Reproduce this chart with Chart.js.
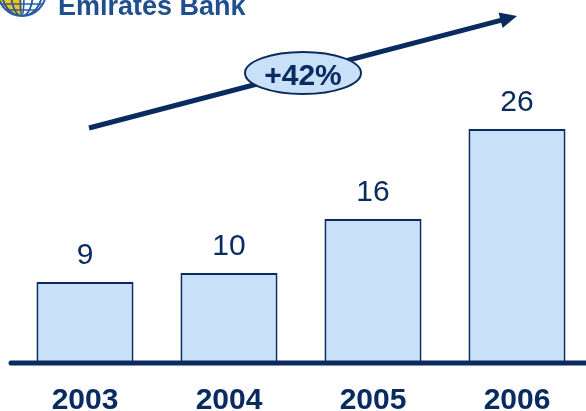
<!DOCTYPE html>
<html>
<head>
<meta charset="utf-8">
<script src="https://cdn.jsdelivr.net/npm/chart.js@4"></script>
<style>
  html, body { margin: 0; padding: 0; background: #fff; overflow: hidden; width: 586px; height: 411px; }
  #wrap { position: relative; width: 600px; height: 411px; }
  #brand { position: absolute; left: 58px; top: -7px; font: bold 27px/27px "Liberation Sans", Arial, sans-serif; color: #1f4f8e; white-space: nowrap; }
</style>
</head>
<body>
<div id="wrap">
  <canvas id="c" width="600" height="411"></canvas>
  <div id="brand">Emirates Bank</div>
</div>
<script>
// Yearly figures
const years = ['2003', '2004', '2005', '2006'];
const values = [9, 10, 16, 26];
const growthLabel = '+42%';

const NAVY = '#0a2b60';
const FILL = '#c9e1f8';

// Globe emblem, value labels, baseline and growth arrow
const decorations = {
  id: 'decorations',
  afterDatasetsDraw(chart) {
    const ctx = chart.ctx;
    const area = chart.chartArea;
    const y = chart.scales.y;
    const zeroY = y.getPixelForValue(0);

    // value labels above the bars
    const meta = chart.getDatasetMeta(0);
    ctx.save();
    ctx.fillStyle = NAVY;
    ctx.font = '30px "Liberation Sans", Arial, sans-serif';
    ctx.textAlign = 'center';
    ctx.textBaseline = 'alphabetic';
    meta.data.forEach((bar, i) => {
      ctx.fillText(String(values[i]), bar.x, bar.y - 18);
    });
    ctx.restore();

    // heavy baseline
    ctx.save();
    ctx.strokeStyle = NAVY;
    ctx.lineWidth = 5;
    ctx.lineCap = 'round';
    ctx.beginPath();
    ctx.moveTo(area.left - 2, zeroY);
    ctx.lineTo(chart.width + 5, zeroY);
    ctx.stroke();
    ctx.restore();

    // growth arrow
    const x0 = 89, y0 = 128, x1 = 517, y1 = 16;
    const ang = Math.atan2(y1 - y0, x1 - x0);
    const headLen = 17, headHalf = 8;
    const bx = x1 - headLen * Math.cos(ang), by = y1 - headLen * Math.sin(ang);
    ctx.save();
    ctx.strokeStyle = NAVY;
    ctx.fillStyle = NAVY;
    ctx.lineWidth = 5;
    ctx.beginPath();
    ctx.moveTo(x0, y0);
    ctx.lineTo(bx + 2 * Math.cos(ang), by + 2 * Math.sin(ang));
    ctx.stroke();
    ctx.beginPath();
    ctx.moveTo(x1, y1);
    ctx.lineTo(bx - headHalf * Math.sin(ang), by + headHalf * Math.cos(ang));
    ctx.lineTo(bx + headHalf * Math.sin(ang), by - headHalf * Math.cos(ang));
    ctx.closePath();
    ctx.fill();

    // growth badge
    ctx.beginPath();
    ctx.ellipse(303, 73, 58, 21, 0, 0, Math.PI * 2);
    ctx.fillStyle = FILL;
    ctx.fill();
    ctx.lineWidth = 2;
    ctx.strokeStyle = NAVY;
    ctx.stroke();
    ctx.fillStyle = NAVY;
    ctx.font = 'bold 30px "Liberation Sans", Arial, sans-serif';
    ctx.textAlign = 'center';
    ctx.textBaseline = 'alphabetic';
    ctx.fillText(growthLabel, 303, 85);
    ctx.restore();

    // globe emblem (top-left, partly off the page)
    ctx.save();
    ctx.beginPath();
    ctx.arc(22, -8, 24, 0, Math.PI * 2);
    ctx.clip();
    ctx.fillStyle = '#ffffff';
    ctx.fillRect(-5, -35, 55, 55);
    ctx.fillStyle = '#f3c316';
    ctx.fillRect(-5, -35, 27, 55);
    ctx.strokeStyle = '#2a5da3';
    ctx.lineWidth = 1.6;
    for (let k = -2; k <= 2; k++) {
      ctx.beginPath();
      ctx.ellipse(22, -8, Math.abs(k) * 9 + 2, 24, 0, 0, Math.PI * 2);
      ctx.stroke();
    }
    for (let yy = -20; yy <= 16; yy += 6) {
      ctx.beginPath();
      ctx.moveTo(-5, yy);
      ctx.lineTo(50, yy);
      ctx.stroke();
    }
    ctx.restore();
    ctx.save();
    ctx.beginPath();
    ctx.arc(22, -8, 24, 0, Math.PI * 2);
    ctx.strokeStyle = '#2a5da3';
    ctx.lineWidth = 2;
    ctx.stroke();
    ctx.restore();
  }
};

new Chart(document.getElementById('c'), {
  type: 'bar',
  data: {
    labels: years,
    datasets: [{
      data: values,
      backgroundColor: FILL,
      borderColor: NAVY,
      borderWidth: 2,
      borderSkipped: 'bottom',
      barPercentage: 0.674,
      categoryPercentage: 1.0
    }]
  },
  options: {
    responsive: false,
    animation: false,
    layout: { padding: { left: 13, right: 11, top: 3, bottom: 0 } },
    plugins: { legend: { display: false }, tooltip: { enabled: false } },
    scales: {
      x: {
        grid: { display: false, drawTicks: false },
        border: { display: false },
        ticks: {
          color: NAVY,
          font: { family: '"Liberation Sans", Arial, sans-serif', size: 30, weight: 'bold' },
          padding: 20,
          maxRotation: 0
        },
        afterFit(scale) { scale.height = 48; }
      },
      y: {
        display: false,
        min: 0,
        max: 40
      }
    }
  },
  plugins: [decorations]
});
</script>
</body>
</html>
